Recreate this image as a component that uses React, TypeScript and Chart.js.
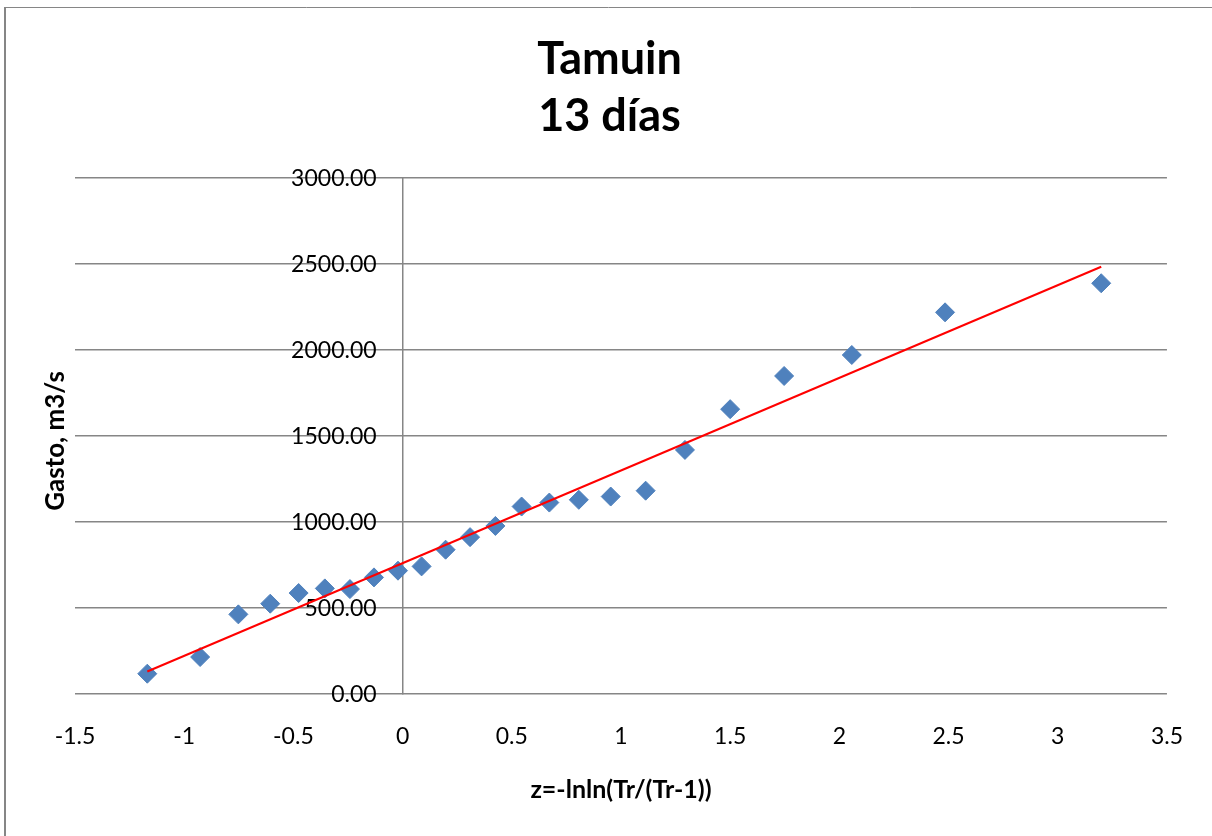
import React, { useEffect, useRef } from 'react';
import { Chart, registerables } from 'chart.js';

Chart.register(...registerables);

// Reduced variate z = -ln(ln(Tr/(Tr-1))) for each observation
const zValues = [
  3.199, 2.484, 2.057, 1.747, 1.5, 1.293, 1.113, 0.953, 0.807, 0.672, 0.545, 0.425,
  0.309, 0.197, 0.087, -0.021, -0.131, -0.241, -0.356, -0.476, -0.606, -0.752, -0.927, -1.169,
];
// Gasto (m3/s)
const gastoValues = [
  2388, 2219, 1971, 1849, 1656, 1419, 1182, 1148, 1129, 1113, 1090, 977,
  912, 839, 742, 717, 678, 610, 614, 587, 525, 463, 215, 118,
];
// Trend line endpoints
const trendZ = [-1.169, 3.199];
const trendQ = [131, 2484];

const xMin = -1.5;
const xMax = 3.5;
const xStep = 0.5;
const yMin = 0;
const yMax = 3000;
const yStep = 500;

const titleLines = ['Tamuin', '13 días'];
const xTitle = 'z=-lnln(Tr/(Tr-1))';
const yTitle = 'Gasto, m3/s';

const FONT = 'Lato, "Open Sans", "DejaVu Sans", sans-serif';
const GRID = '#868686';

const decorPlugin = {
  id: 'decor',
  beforeDraw(chart: any) {
    const ctx = chart.ctx;
    ctx.save();
    ctx.fillStyle = '#ffffff';
    ctx.fillRect(0, 0, chart.width, chart.height);
    ctx.strokeStyle = GRID;
    ctx.lineWidth = 2;
    ctx.beginPath();
    ctx.moveTo(5, 7);
    ctx.lineTo(5, chart.height + 2);
    ctx.stroke();
    ctx.lineWidth = 1;
    ctx.beginPath();
    ctx.moveTo(4, 7.5);
    ctx.lineTo(chart.width + 2, 7.5);
    ctx.stroke();
    // Chart title (two lines), centred on the whole chart frame
    ctx.fillStyle = '#000000';
    ctx.font = `bold 45px ${FONT}`;
    ctx.textAlign = 'center';
    ctx.textBaseline = 'alphabetic';
    const cx = (5 + chart.width + 2) / 2;
    titleLines.forEach((line, i) => {
      ctx.fillText(line, cx, 74 + i * 57);
    });
    ctx.restore();
  },
  beforeDatasetsDraw(chart: any) {
    const ctx = chart.ctx;
    const xs = chart.scales.x;
    const ys = chart.scales.y;
    const axisX = xs.getPixelForValue(0);
    ctx.save();
    ctx.fillStyle = '#000000';
    ctx.font = `23px ${FONT}`;
    ctx.textAlign = 'right';
    ctx.textBaseline = 'middle';
    ys.ticks.forEach((t: any) => {
      ctx.fillText(Number(t.value).toFixed(2), axisX - 26, ys.getPixelForValue(t.value) + 1);
    });
    const area = chart.chartArea;
    ctx.translate(56, (area.top + area.bottom) / 2 + 5);
    ctx.rotate(-Math.PI / 2);
    ctx.font = `bold 26px ${FONT}`;
    ctx.textAlign = 'center';
    ctx.textBaseline = 'middle';
    ctx.fillText(yTitle, 0, 0);
    ctx.restore();
  },
};

export default function App() {
  const ref = useRef<HTMLCanvasElement | null>(null);

  useEffect(() => {
    if (!ref.current) return;
    const points = zValues.map((z, i) => ({ x: z, y: gastoValues[i] }));
    const trend = trendZ.map((z, i) => ({ x: z, y: trendQ[i] }));
    const chart = new Chart(ref.current, {
      type: 'scatter',
      data: {
        datasets: [
          {
            label: 'Tendencia',
            data: trend,
            showLine: true,
            borderColor: '#ff0000',
            borderWidth: 2,
            pointRadius: 0,
            order: 0,
          },
          {
            label: 'Gasto',
            data: points,
            pointStyle: 'rectRot',
            pointRadius: 9.5,
            pointBackgroundColor: '#4F81BD',
            pointBorderColor: '#4F81BD',
            pointBorderWidth: 1,
            showLine: false,
            order: 1,
          },
        ],
      },
      options: {
        animation: false,
        responsive: false,
        devicePixelRatio: 1,
        layout: { padding: { left: 75, right: 44, top: 178, bottom: 0 } },
        plugins: {
          legend: { display: false },
          tooltip: { enabled: false },
          title: { display: false },
        },
        scales: {
          x: {
            type: 'linear',
            position: 'bottom',
            min: xMin,
            max: xMax,
            grid: { display: false, drawTicks: false },
            border: { display: false },
            ticks: {
              stepSize: xStep,
              color: '#000000',
              font: { family: FONT, size: 23 },
              padding: 29,
              callback: (v: any) => String(Number(v)),
            },
            title: {
              display: true,
              text: xTitle,
              color: '#000000',
              font: { family: FONT, size: 25, weight: 'bold' },
              padding: { top: 0, bottom: 31 },
            },
            afterFit: (scale: any) => {
              scale.height = 142;
            },
          },
          y: {
            type: 'linear',
            position: { x: 0 },
            min: yMin,
            max: yMax,
            grid: { color: GRID, lineWidth: 1.5, drawTicks: false },
            border: { display: true, color: GRID, width: 1.5 },
            ticks: { stepSize: yStep, display: false },
          },
        },
      },
      plugins: [decorPlugin],
    });
    return () => chart.destroy();
  }, []);

  return (
    <div style={{ position: 'fixed', left: 0, top: 0, width: 1212, height: 836, background: '#fff' }}>
      <canvas ref={ref} width={1212} height={836} />
    </div>
  );
}
